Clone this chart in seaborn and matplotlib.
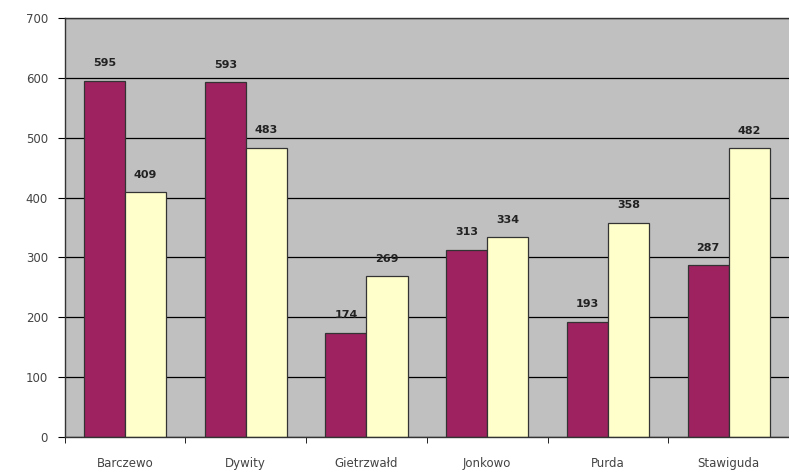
import pandas as pd
import numpy as np
import matplotlib.pyplot as plt
import seaborn as sns

# Data
gminy = ['Barczewo', 'Dywity', 'Gietrzwałd', 'Jonkowo', 'Purda', 'Stawiguda']
seria_a = [595, 593, 174, 313, 193, 287]
seria_b = [409, 483, 269, 334, 358, 482]
y_ticks = [0, 100, 200, 300, 400, 500, 600, 700]

df = pd.DataFrame({
    'gmina': gminy * 2,
    'seria': ['A'] * len(gminy) + ['B'] * len(gminy),
    'wartosc': seria_a + seria_b,
})

sns.set_style('white')
plt.rcParams['font.family'] = ['DejaVu Sans']

fig = plt.figure(figsize=(7.89, 4.72), dpi=100)
ax = fig.add_axes([0.082, 0.074, 0.918, 0.888])
ax.set_facecolor('#c0c0c0')

sns.barplot(data=df, x='gmina', y='wartosc', hue='seria',
            palette=['#9e2160', '#ffffcc'], width=0.68,
            edgecolor='#333333', linewidth=0.9, saturation=1,
            legend=False, ax=ax)

# value labels above bars
for cont in ax.containers:
    ax.bar_label(cont, padding=9, fontsize=8, fontweight='bold', color='#222222')

ax.set_ylim(0, 700)
ax.set_xlim(-0.5, len(gminy) - 0.5)
ax.set_yticks(y_ticks)
ax.set_axisbelow(True)
ax.yaxis.grid(True, color='black', linewidth=0.9)
ax.set_xlabel('')
ax.set_ylabel('')

# x ticks between categories, labels at centres
ax.set_xticks(np.arange(len(gminy)))
ax.set_xticklabels(gminy)
ax.set_xticks(np.arange(len(gminy)) - 0.5, minor=True)
ax.tick_params(axis='x', which='major', length=0, pad=14, labelsize=8.5, labelcolor='#444444')
ax.tick_params(axis='x', which='minor', length=4, color='black', direction='out', bottom=True)
ax.tick_params(axis='y', length=5, color='black', direction='out', labelsize=8.5,
               labelcolor='#444444', left=True, pad=7)

for side in ['left', 'top', 'bottom']:
    ax.spines[side].set_visible(True)
    ax.spines[side].set_color('#333333')
    ax.spines[side].set_linewidth(1)
ax.spines['right'].set_visible(False)

fig.savefig('out.png', dpi=100)
